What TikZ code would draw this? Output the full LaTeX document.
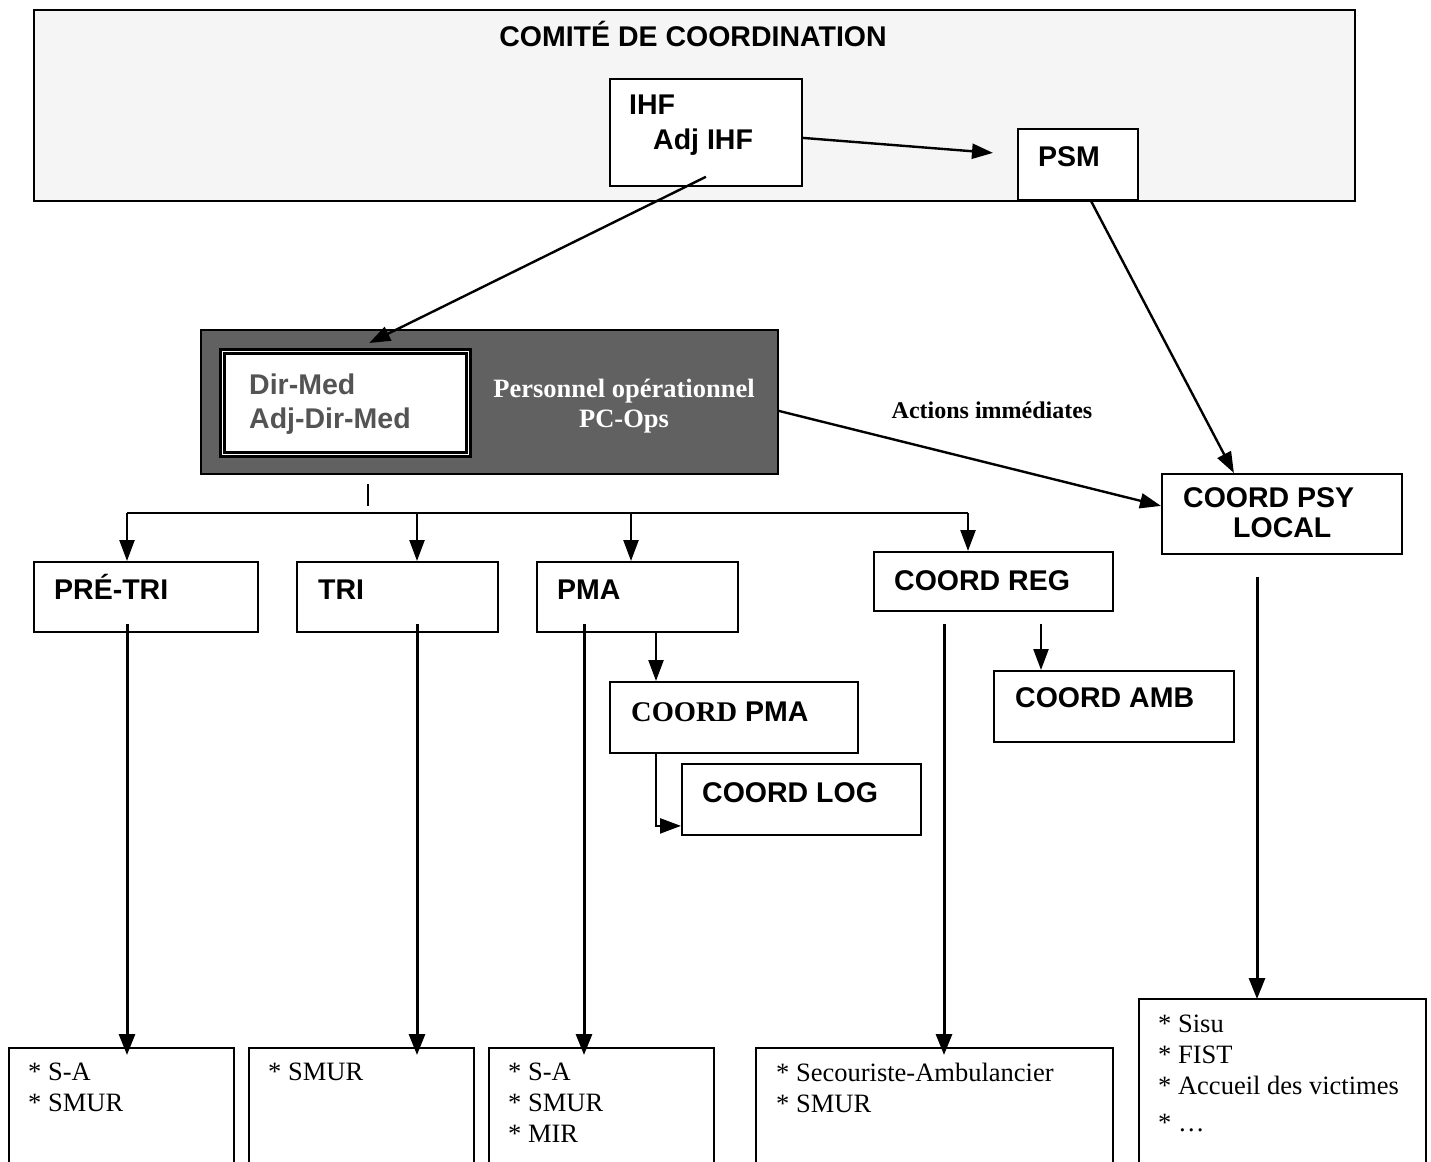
\documentclass[tikz,border=0pt]{standalone}
\usepackage{fontspec}
\setmainfont{Liberation Sans}
\newfontfamily\tnr{Liberation Serif}
\usetikzlibrary{arrows.meta, positioning}

\begin{document}
\begin{tikzpicture}[x=1pt, y=-1pt,
            box/.style={draw, line width=1.8pt, fill=white, anchor=north west, inner sep=0pt},
            lbl/.style={anchor=base west, inner sep=0pt, font=\fontsize{28.5}{32}\selectfont\bfseries},
            item/.style={anchor=north west, inner sep=0pt, align=left, font=\tnr\fontsize{26.5}{31}\selectfont},
            arr/.style={line width=2.4pt, -{Triangle[length=21pt, width=15pt]}},
            longarr/.style={line width=3pt, -{Triangle[length=21pt, width=16pt]}}]
            \useasboundingbox (0,0) rectangle (1431,1161);
            \clip (0,0) rectangle (1431,1161);
            \fill[white] (0,0) rectangle (1431,1161);

            % comite
            \node[box, fill=black!4, minimum width=1321, minimum height=191] (comite) at (33,9) {};
            \node[lbl, anchor=base] (t-comite) at (693,47) {COMITÉ DE COORDINATION};
            \node[box, minimum width=192, minimum height=107] (ihf) at (609,78) {};
            \node[lbl] (t-ihf) at (629,115) {IHF};
            \node[lbl] (t-adjihf) at (653,150) {Adj IHF};
            \node[box, minimum width=120, minimum height=71] (psm) at (1017,128) {};
            \node[lbl] (t-psm) at (1038,167) {PSM};

            % PC-Ops
            \node[box, fill=black!62, minimum width=577, minimum height=144] (ops) at (200,329) {};
            \node[box, line width=2.5pt, double=white, double distance=1.5pt, minimum width=246, minimum height=103] (dm) at (221,350) {};
            \node[lbl, text=black!67] (t-dm) at (249,394) {Dir-Med};
            \node[lbl, text=black!67] (t-adm) at (249,428) {Adj-Dir-Med};
            \node[align=center, inner sep=0pt, text=white, font=\tnr\bfseries\fontsize{26.5}{30}\selectfont] (t-ops) at (624,406) {Personnel opérationnel\\PC-Ops};
            \node[anchor=base, inner sep=0pt, font=\tnr\bfseries\fontsize{24}{28}\selectfont] (t-act) at (992,418) {Actions immédiates};

            \node[box, minimum width=240, minimum height=80] (psy) at (1161,473) {};
            \node[lbl] (t-psy) at (1183,507) {COORD PSY};
            \node[lbl] (t-local) at (1233,537) {LOCAL};

            % postes
            \node[box, minimum width=224, minimum height=70] (pretri) at (33,561) {};
            \node[lbl] (t-pretri) at (54,599) {PRÉ-TRI};
            \node[box, minimum width=201, minimum height=70] (tri) at (296,561) {};
            \node[lbl] (t-tri) at (318,599) {TRI};
            \node[box, minimum width=201, minimum height=70] (pma) at (536,561) {};
            \node[lbl] (t-pma) at (557,599) {PMA};
            \node[box, minimum width=239, minimum height=59] (creg) at (873,551) {};
            \node[lbl] (t-creg) at (894,590) {COORD REG};
            \node[box, minimum width=248, minimum height=71] (cpma) at (609,681) {};
            \node[lbl] (t-cpma) at (631,721) {{\tnr COORD} PMA};
            \node[box, minimum width=239, minimum height=71] (clog) at (681,763) {};
            \node[lbl] (t-clog) at (702,802) {COORD LOG};
            \node[box, minimum width=240, minimum height=71] (camb) at (993,670) {};
            \node[lbl] (t-camb) at (1015,707) {COORD AMB};

            % equipes
            \node[box, minimum width=225, minimum height=140] (b1) at (8,1047) {};
            \node[box, minimum width=225, minimum height=140] (b2) at (248,1047) {};
            \node[box, minimum width=225, minimum height=140] (b3) at (488,1047) {};
            \node[box, minimum width=357, minimum height=140] (b4) at (755,1047) {};
            \node[box, minimum width=287, minimum height=190] (b5) at (1138,998) {};
            \node[item] (i1) at (28,1063) {* S-A\\* SMUR};
            \node[item] (i2) at (268,1063) {* SMUR};
            \node[item] (i3) at (508,1063) {* S-A\\* SMUR\\* MIR};
            \node[item] (i4) at (776,1063) {* Secouriste-Ambulancier\\* SMUR};
            \node[item] (i5) at (1158,1015) {* Sisu\\* FIST\\* Accueil des victimes\\[6pt]* \ldots};

            % liens
            \draw[arr] ([yshift=-5.5]ihf.east) -- ([xshift=-24, yshift=11.5]psm.west);
            \draw[arr] ([yshift=10]ihf.south) -- ([xshift=24, yshift=7]dm.north);
            \draw[arr] ([xshift=13]psm.south) -- ([xshift=-48]psy.north);
            \draw[arr] ([yshift=-9]ops.east) -- ([yshift=8]psy.west);

            \coordinate (tick) at (368,484);
            \coordinate (busL) at (127,513);
            \coordinate (busR) at (968,513);
            \draw[line width=1.5pt] (tick) -- ++(0,22);
            \draw[line width=2pt] (busL) -- (busR);
            \foreach \x/\n in {127/pretri, 417/tri, 631/pma, 968/creg}
                \draw[arr] (\x,513) -- (\x,513 |- \n.north);

            \foreach \x/\n/\b in {127/pretri/b1, 417/tri/b2, 584/pma/b3}
                \draw[longarr, shorten <=-9pt, shorten >=-8pt] (\x,0 |- \n.south) -- (\x,0 |- \b.north);
            \draw[longarr, shorten <=12pt, shorten >=-8pt] (944,0 |- creg.south) -- (944,0 |- b4.north);
            \draw[longarr, shorten <=22pt, shorten >=-1pt] (1257,0 |- psy.south) -- (1257,0 |- b5.north);

            \draw[arr] (656,0 |- pma.south) -- (656,0 |- cpma.north);
            \draw[arr] (656,0 |- cpma.south) |- ([yshift=-26.5]clog.west);
            \draw[arr, shorten <=12pt] (1041,0 |- creg.south) -- (1041,0 |- camb.north);
        \end{tikzpicture}
\end{document}
